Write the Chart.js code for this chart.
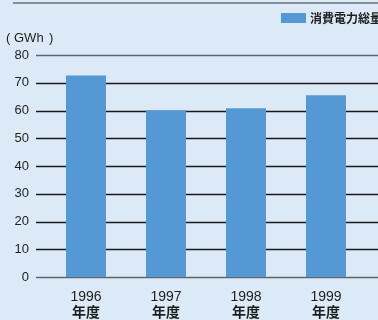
<!DOCTYPE html>
<html>
<head>
<meta charset="utf-8">
<script src="https://cdn.jsdelivr.net/npm/chart.js@4/dist/chart.umd.min.js"></script>
<style>
html,body{margin:0;padding:0;background:#dceaf7;}
#wrap{width:378px;height:320px;position:relative;}
</style>
</head>
<body>
<div id="wrap"><canvas id="c" width="378" height="320"></canvas></div>
<script>
const years = ['1996', '1997', '1998', '1999'];
const yearSuffix = '年度';
const consumption = [72.6, 60.1, 60.8, 65.5];
const seriesName = '消費電力総量';
const unitLabel = 'GWh';
const yTicks = [0, 10, 20, 30, 40, 50, 60, 70, 80];

const BG = '#dceaf7';
const BAR = '#5599d4';
const TXT = '#1e1e1e';
const FONT = '"Liberation Sans", Arial, sans-serif';
const CJK = '"Noto Sans CJK JP", sans-serif';

const decor = {
  id: 'decor',
  beforeDraw(chart) {
    const ctx = chart.ctx;
    ctx.save();
    ctx.fillStyle = BG;
    ctx.fillRect(0, 0, chart.width, chart.height);
    // top rule
    ctx.strokeStyle = '#6b6f76';
    ctx.lineWidth = 1.5;
    ctx.beginPath();
    ctx.moveTo(13, 3);
    ctx.lineTo(chart.width, 3);
    ctx.stroke();
    // unit label
    ctx.fillStyle = TXT;
    ctx.font = '13px ' + FONT;
    ctx.textBaseline = 'middle';
    ctx.textAlign = 'left';
    ctx.fillText('(', 6, 38);
    ctx.fillText(unitLabel, 14, 38);
    ctx.fillText(')', 49, 38);
    // legend
    ctx.fillStyle = BAR;
    ctx.fillRect(281, 13, 25, 10);
    ctx.fillStyle = TXT;
    ctx.font = 'bold 12px ' + CJK;
    ctx.fillText(chart.data.datasets[0].label, 310, 18.5);
    ctx.restore();
  },
  beforeDatasetsDraw(chart) {
    const ctx = chart.ctx;
    const y = chart.scales.y;
    ctx.save();
    yTicks.forEach(v => {
      const py = Math.round(y.getPixelForValue(v)) + 0.5;
      ctx.strokeStyle = (v === 0 || v === 80) ? '#5f656e' : '#1a1a1a';
      ctx.lineWidth = (v === 0 || v === 80) ? 1.5 : 1.3;
      ctx.beginPath();
      ctx.moveTo(36, py);
      ctx.lineTo(chart.width, py);
      ctx.stroke();
    });
    ctx.restore();
  },
  afterDraw(chart) {
    const ctx = chart.ctx;
    const x = chart.scales.x;
    ctx.save();
    ctx.fillStyle = TXT;
    ctx.textAlign = 'center';
    ctx.textBaseline = 'middle';
    chart.data.labels.forEach((lab, i) => {
      const px = x.getPixelForValue(i);
      ctx.font = '14px ' + FONT;
      ctx.fillText(lab, px, 297);
      ctx.font = 'bold 14px ' + CJK;
      ctx.fillText(yearSuffix, px, 312);
    });
    ctx.restore();
  }
};

new Chart(document.getElementById('c'), {
  type: 'bar',
  data: {
    labels: years,
    datasets: [{
      label: seriesName,
      data: consumption,
      backgroundColor: BAR,
      borderWidth: 0,
      barPercentage: 0.5,
      categoryPercentage: 1.0
    }]
  },
  options: {
    responsive: false,
    animation: false,
    devicePixelRatio: 1,
    layout: { padding: { top: 55, right: 12, left: 0, bottom: 0 } },
    plugins: { legend: { display: false }, tooltip: { enabled: false } },
    scales: {
      x: {
        grid: { display: false, drawTicks: false },
        border: { display: false },
        ticks: { display: false },
        afterFit(s) { s.height = 43; }
      },
      y: {
        min: 0, max: 80,
        grid: { display: false, drawTicks: false },
        border: { display: false },
        afterBuildTicks(s) { s.ticks = yTicks.map(v => ({ value: v })); },
        ticks: {
          color: TXT,
          font: { family: FONT, size: 13 },
          padding: 17
        },
        afterFit(s) { s.width = 46; }
      }
    }
  },
  plugins: [decor]
});
</script>
</body>
</html>
